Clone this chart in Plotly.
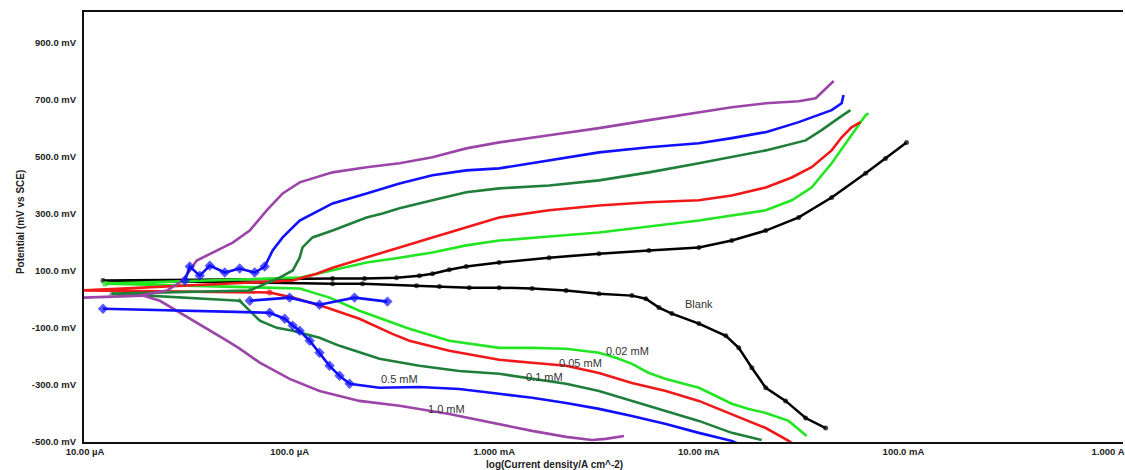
import plotly.graph_objects as go

# ---- axis ticks ----
x_tick_vals = [-5, -4, -3, -2, -1, 0]
x_tick_text = ["10.00 µA", "100.0 µA", "1.000 mA", "10.00 mA", "100.0 mA", "1.000 A"]
y_tick_vals = [-500, -300, -100, 100, 300, 500, 700, 900]

# ---- series: log10(current density / A cm^-2) and potential (mV vs SCE) ----
blank_logi = [-1.380, -1.478, -1.576, -1.673, -1.741, -1.805, -1.868, -2.000, -2.132, -2.195, -2.259, -2.327,
              -2.488, -2.649, -2.815, -2.976, -3.122, -3.268, -3.380, -3.644, -3.790, -4.912, -3.790, -3.634,
              -3.478, -3.366, -3.302, -3.220, -3.137, -2.976, -2.732, -2.488, -2.244, -2.000, -1.839, -1.673,
              -1.512, -1.351, -1.185, -1.088, -0.985]
blank_e = [-451, -416, -356, -310, -240, -170, -128, -85, -50, -29, 2, 13, 20, 31, 38, 41, 41, 45, 48, 55, 55, 66,
           73, 73, 76, 83, 90, 104, 115, 129, 146, 160, 171, 182, 206, 241, 287, 357, 442, 494, 550]

c002_logi = [-1.473, -1.561, -1.673, -1.756, -1.839, -2.000, -2.161, -2.244, -2.327, -2.405, -2.488, -2.649,
             -2.815, -2.976, -3.220, -3.415, -3.659, -3.805, -3.951, -4.902, -3.951, -3.790, -3.624, -3.463,
             -3.302, -3.137, -2.976, -2.732, -2.488, -2.244, -2.000, -1.839, -1.673, -1.546, -1.449, -1.351,
             -1.283, -1.234, -1.185, -1.171]
c002_e = [-479, -426, -398, -384, -366, -310, -279, -258, -226, -205, -187, -173, -170, -170, -145, -103, -40, 6,
          38, 55, 76, 101, 129, 146, 164, 189, 206, 220, 234, 255, 276, 294, 312, 347, 392, 477, 547, 593, 645, 652]

c005_logi = [-1.512, -1.561, -1.673, -1.839, -2.000, -2.161, -2.327, -2.488, -2.649, -2.815, -2.976, -3.220,
             -3.415, -3.498, -3.659, -3.820, -3.985, -4.098, -5.015, -3.985, -3.868, -3.790, -3.624, -3.463,
             -3.302, -3.137, -2.976, -2.732, -2.488, -2.244, -2.000, -1.839, -1.673, -1.546, -1.449, -1.351,
             -1.302, -1.254, -1.210]
c005_e = [-521, -496, -451, -402, -356, -321, -293, -258, -233, -222, -212, -180, -145, -121, -68, -29, 6, 24, 31,
          66, 90, 111, 146, 182, 217, 252, 287, 312, 329, 340, 347, 364, 392, 427, 463, 522, 568, 603, 621]

c01_logi = [-1.693, -1.839, -2.000, -2.161, -2.327, -2.488, -2.649, -2.844, -2.976, -3.171, -3.366, -3.561,
            -3.756, -3.854, -3.985, -4.063, -4.146, -4.244, -4.868, -4.195, -4.049, -3.985, -3.951, -3.937,
            -3.888, -3.790, -3.624, -3.546, -3.463, -3.302, -3.137, -2.976, -2.732, -2.488, -2.244, -2.000,
            -1.839, -1.673, -1.478, -1.400, -1.317, -1.259]
c01_e = [-493, -468, -426, -391, -356, -321, -296, -275, -261, -251, -233, -208, -163, -135, -110, -100, -75, -5,
         20, 31, 76, 101, 146, 182, 217, 241, 287, 301, 319, 347, 375, 389, 399, 417, 445, 477, 498, 522, 557,
         593, 635, 663]

# None separates the noisy near-Ecorr segments of the 0.5 mM record
c05_logi = [-1.805, -1.839, -2.000, -2.161, -2.327, -2.488, -2.649, -2.815, -2.976, -3.171, -3.366, -3.561,
            -3.707, -3.756, -3.805, -3.854, -3.902, -3.951, -3.985, -4.024, -4.098, -4.912, None,
            -4.195, -4.000, -3.854, -3.683, -3.522, None,
            -4.512, -4.488, -4.439, -4.390, -4.317, -4.244, -4.171, -4.122, -4.083, -4.034, -3.951, -3.790,
            -3.624, -3.463, -3.302, -3.137, -2.976, -2.732, -2.488, -2.244, -2.000, -1.839, -1.673, -1.512,
            -1.351, -1.302, -1.293]
c05_e = [-507, -496, -468, -437, -409, -384, -363, -345, -331, -314, -307, -310, -296, -268, -233, -187, -145,
         -110, -92, -68, -47, -33, None,
         -5, 6, -19, 6, -8, None,
         66, 115, 83, 118, 94, 108, 94, 115, 171, 217, 276, 336, 371, 406, 435, 452, 459, 487, 515, 533, 547,
         565, 586, 621, 663, 687, 716]

c10_logi = [-2.366, -2.454, -2.522, -2.649, -2.815, -2.976, -3.220, -3.463, -3.659, -3.854, -4.000, -4.146,
            -4.244, -4.307, -4.390, -4.473, -4.551, -4.634, -4.717, -5.010, -4.732, -4.600, -4.522, -4.454,
            -4.356, -4.278, -4.195, -4.112, -4.034, -3.951, -3.790, -3.624, -3.463, -3.302, -3.137, -2.976,
            -2.732, -2.488, -2.244, -2.000, -1.839, -1.673, -1.512, -1.429, -1.380, -1.341]
c10_e = [-479, -489, -493, -482, -461, -437, -402, -373, -356, -321, -279, -222, -173, -145, -110, -75, -40, -5,
         13, 6, 13, 31, 66, 136, 171, 199, 241, 312, 371, 410, 445, 463, 477, 498, 529, 550, 575, 600, 628, 656,
         673, 687, 694, 705, 740, 765]

# curve labels
label_text = ["Blank", "0.02 mM", "0.05 mM", "0.1 mM", "0.5 mM", "1.0 mM"]
label_logi = [-2.000, -2.351, -2.576, -2.756, -3.463, -3.234]
label_e = [-15, -180, -222, -271, -279, -384]

# name, x, y, colour, marker symbol, line width, index ranges with visible markers, marker size
series = [
    ("Blank", blank_logi, blank_e, "#000000", "circle", 2.5, [(0, len(blank_logi) - 1)], 5),
    ("0.02 mM", c002_logi, c002_e, "#22e622", "circle", 2.6, [(19, 19)], 6),
    ("0.05 mM", c005_logi, c005_e, "#f01818", "circle", 2.6, [(17, 18)], 6),
    ("0.1 mM", c01_logi, c01_e, "#1f7f3a", "triangle-up", 2.6, [(17, 19)], 6),
    ("1.0 mM", c10_logi, c10_e, "#9c45a8", "circle", 2.6, [], 0),
    ("0.5 mM", c05_logi, c05_e, "#1010ff", "diamond", 2.6, [(12, 21), (23, 27), (29, 36)], 8),
]

fig = go.Figure()
for name, xs, ys, color, sym, lw, ranges, msize in series:
    sizes = [msize if any(a <= k <= b for a, b in ranges) else 0 for k in range(len(xs))]
    fig.add_trace(go.Scatter(
        x=xs, y=ys, mode="lines+markers", name=name, connectgaps=False,
        line=dict(color=color, width=lw),
        marker=dict(color=color, size=sizes, symbol=sym, line=dict(width=0)),
        cliponaxis=False, showlegend=False,
    ))

for t, lx, ly in zip(label_text, label_logi, label_e):
    fig.add_annotation(x=lx, y=ly, text=t, showarrow=False,
                       font=dict(family="Liberation Sans, Arial", size=11, color="#333333"))

axis_font = dict(family="Liberation Sans, Arial", size=9.5, color="#222222", weight="bold")

fig.update_layout(
    width=1125, height=470,
    margin=dict(l=84, r=0, t=12, b=28),
    paper_bgcolor="white", plot_bgcolor="white",
    showlegend=False,
    xaxis=dict(range=[-5.005, 0.073], tickmode="array", tickvals=x_tick_vals, ticktext=x_tick_text,
               showgrid=False, zeroline=False, showline=True, linecolor="#111111", linewidth=2,
               mirror=True, ticks="", ticklabeloverflow="allow", tickfont=axis_font),
    yaxis=dict(range=[-500, 1007], tickmode="array", tickvals=y_tick_vals,
               ticktext=[f"{v:.1f} mV" for v in y_tick_vals],
               showgrid=False, zeroline=False, showline=True, linecolor="#111111", linewidth=2,
               ticks="outside", ticklen=4, tickcolor="rgba(0,0,0,0)", tickfont=axis_font),
)

fig.add_annotation(xref="paper", yref="paper", x=(555 - 84) / 1041, y=(442 - 464) / 430,
                   text="log(Current density/A cm^-2)", showarrow=False, yanchor="middle",
                   font=dict(family="Liberation Sans, Arial", size=10, color="#222222", weight="bold"))
fig.add_annotation(xref="paper", yref="paper", x=(20 - 84) / 1041, y=(442 - 222) / 430,
                   text="Potential (mV vs SCE)", showarrow=False, textangle=-90,
                   xanchor="center", yanchor="middle",
                   font=dict(family="Liberation Sans, Arial", size=10, color="#222222", weight="bold"))

fig.write_html("out.html")
